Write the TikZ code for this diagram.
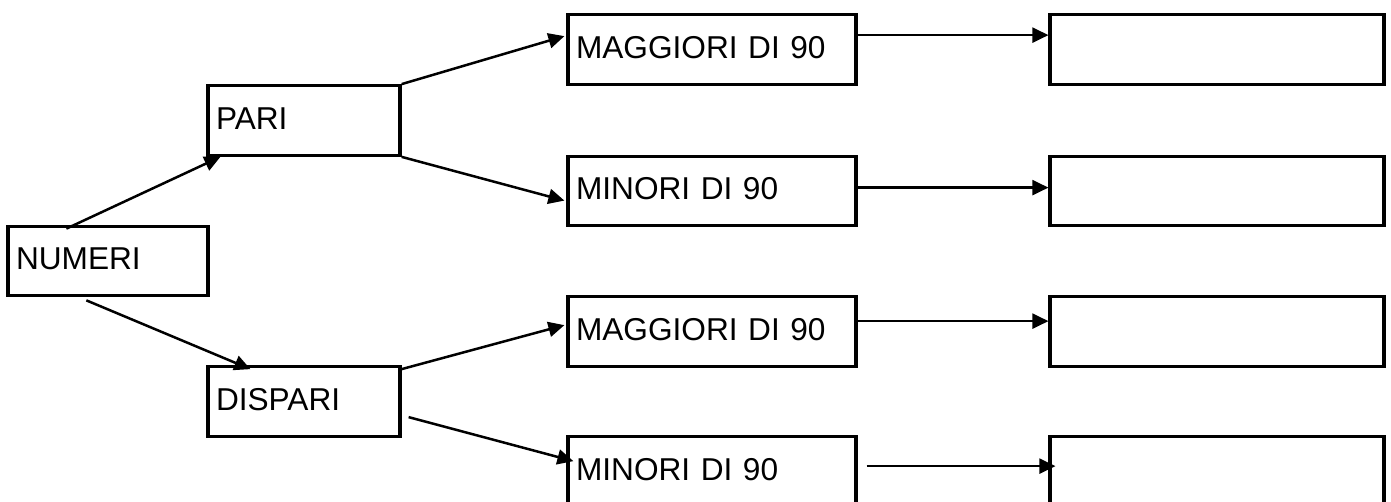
\documentclass[tikz,border=0pt]{standalone}
\usepackage{fontspec}
\setmainfont{Liberation Sans}
\usetikzlibrary{arrows.meta}
\tikzset{
	box/.style={draw, line width=0.065cm, minimum height=1.39cm, inner xsep=0.16cm,
		text height=0.55cm, text depth=0.2cm, align=left, text width=#1,
		font=\fontsize{18}{21.6}\selectfont},
	link/.style={line width=0.05cm, -{Triangle[length=0.32cm,width=0.3cm]}}
}
\begin{document}
\begin{tikzpicture}[x=0.02cm,y=-0.02cm]
		\useasboundingbox (0,0) rectangle (1391,502);
		\clip (0,0) rectangle (1391,502);
		% first level
		\node[box=3.68cm] (numeri) at (108,261) {NUMERI};
		\node[box=3.52cm] (pari) at (304,120.5) {PARI};
		\node[box=3.52cm] (dispari) at (304,401.5) {DISPARI};
		% second level
		\node[box=5.44cm] (mag1) at (712,49.5) {MAGGIORI DI 90};
		\node[box=5.44cm] (min1) at (712,191) {MINORI DI 90};
		\node[box=5.44cm] (mag2) at (712,331.5) {MAGGIORI DI 90};
		\node[box=5.44cm] (min2) at (712,471.5) {MINORI DI 90};
		% empty boxes
		\foreach \y/\n in {49.5/r1,191/r2,331.5/r3,471.5/r4}
		{
			\node[box=6.36cm] (\n) at (1217,\y) {};
		}
		\draw[link] ([xshift=1.2cm,yshift=-0.08cm]numeri.north west) -- ([xshift=0.28cm]pari.south west);
		\draw[link] ([xshift=1.6cm,yshift=-0.06cm]numeri.south west) -- ([xshift=0.88cm,yshift=-0.08cm]dispari.north west);
		\draw[link] (pari.north east) -- ([xshift=-0.04cm,yshift=-0.46cm]mag1.north west);
		\draw[link] (pari.south east) -- ([xshift=-0.04cm,yshift=-0.92cm]min1.north west);
		\draw[link] ([yshift=-0.08cm]dispari.north east) -- ([xshift=-0.04cm,yshift=-0.6cm]mag2.north west);
		\draw[link] ([xshift=0.14cm,yshift=-1.04cm]dispari.north east) -- ([xshift=0.14cm,yshift=-0.52cm]min2.north west);
		\foreach \a/\b/\s/\p/\q in {mag1/r1/0.44/0/0,min1/r2/0.66/0/0,mag2/r3/0.52/-0.04/0,min2/r4/0.62/0.18/0.14}
		{
			\draw[link] ([xshift=\p cm,yshift=-\s cm]\a.north east) -- ([xshift=\q cm,yshift=-\s cm]\b.north west);
		}
\end{tikzpicture}
\end{document}
